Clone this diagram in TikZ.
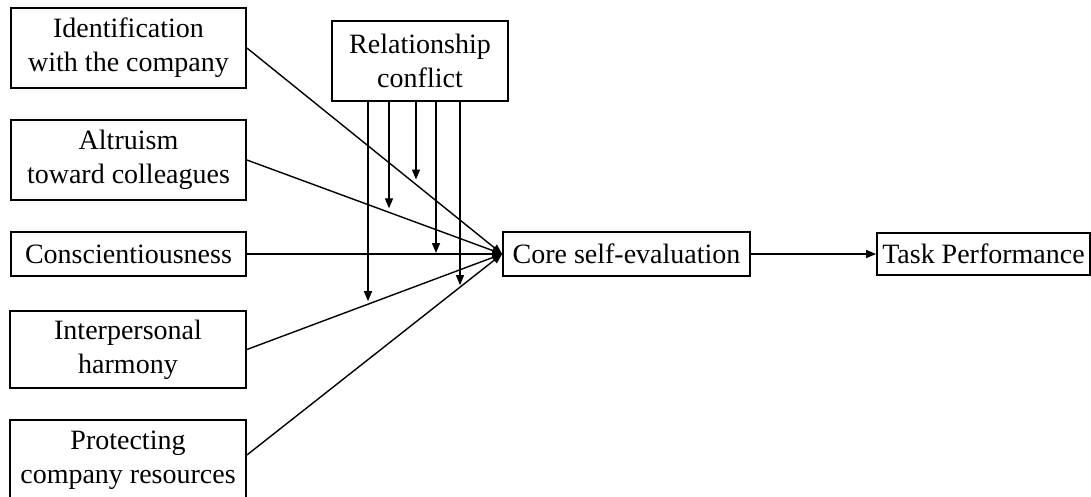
\documentclass[tikz,border=0pt]{standalone}
\usepackage{fontspec}
\setmainfont{Liberation Serif}
\usetikzlibrary{arrows.meta,intersections,calc}
\begin{document}
\begin{tikzpicture}[x=1pt,y=-1pt,
  box/.style={draw,line width=1.8pt,inner sep=0pt,align=center,
    font=\fontsize{28}{34}\selectfont},
  conn/.style={line width=1.4pt,-{Triangle[length=10pt,width=8pt]}}]
\useasboundingbox (0,0) rectangle (1091,496);
\node[box,minimum width=235,minimum height=80] (id) at (128.5,48) {Identification\\with the company};
\node[box,minimum width=235,minimum height=80] (al) at (128.5,160) {Altruism\\toward colleagues};
\node[box,minimum width=235,minimum height=44] (co) at (128.5,254) {Conscientiousness};
\node[box,minimum width=236,minimum height=77] (ih) at (128,349.5) {Interpersonal\\harmony};
\node[box,minimum width=236,minimum height=80] (pr) at (128,460) {Protecting\\company resources};
\node[box,minimum width=176,minimum height=80] (rc) at (420,61) {Relationship\\conflict};
\node[box,minimum width=247,minimum height=44] (cs) at (626.5,254) {Core self-evaluation};
\node[box,minimum width=213,minimum height=42] (tp) at (983.5,254) {Task Performance};
\coordinate (pre) at ([yshift=5pt]pr.east);
% source arrows
\draw[conn,name path=Lid] (id.east) -- (cs.west);
\draw[conn,name path=Lal] (al.east) -- (cs.west);
\draw[conn,name path=Lco] (co.east) -- (cs.west);
\draw[conn,name path=Lih] (ih.east) -- (cs.west);
\draw[conn,name path=Lpr] (pre) -- (cs.west);
\draw[conn] (cs.east) -- (tp.west);
% moderator
\coordinate (m1) at (368,101);
\coordinate (m2) at (389,101);
\coordinate (m3) at (416,101);
\coordinate (m4) at (436,101);
\coordinate (m5) at (460,101);
\path[name path=V1] (m1) -- ++(0,400);
\path[name path=V2] (m2) -- ++(0,400);
\path[name path=V3] (m3) -- ++(0,400);
\path[name path=V4] (m4) -- ++(0,400);
\path[name path=V5] (m5) -- ++(0,400);
\path[name intersections={of=V1 and Lih,by=i1}];
\path[name intersections={of=V2 and Lal,by=i2}];
\path[name intersections={of=V3 and Lid,by=i3}];
\path[name intersections={of=V4 and Lco,by=i4}];
\path[name intersections={of=V5 and Lpr,by=i5}];
\draw[conn,shorten >=3pt] (m1) -- (i1);
\draw[conn,shorten >=4pt] (m2) -- (i2);
\draw[conn,shorten >=5pt] (m3) -- (i3);
\draw[conn,shorten >=1pt] (m4) -- (i4);
\draw[conn,shorten >=2pt] (m5) -- (i5);
\end{tikzpicture}
\end{document}
